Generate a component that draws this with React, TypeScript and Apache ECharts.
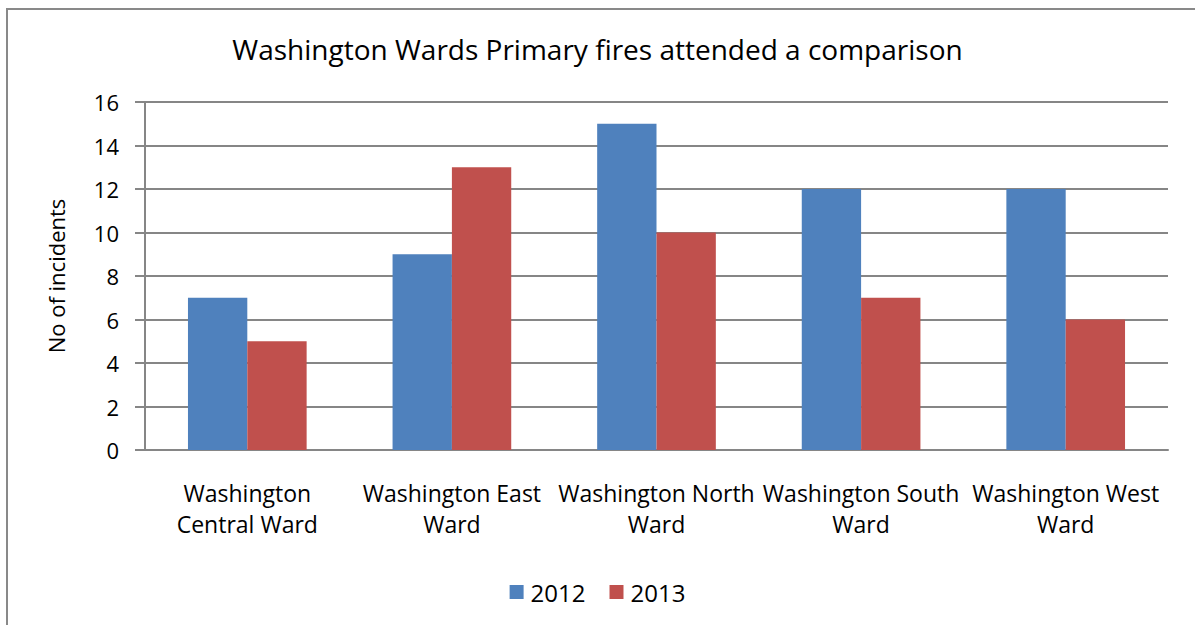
import React, { useEffect, useRef } from "react";
import * as echarts from "echarts";

const categories = [
  "Washington\nCentral Ward",
  "Washington East\nWard",
  "Washington North\nWard",
  "Washington South\nWard",
  "Washington West\nWard",
];
const series2012 = [7, 9, 15, 12, 12];
const series2013 = [5, 13, 10, 7, 6];
const seriesNames = ["2012", "2013"];

const FONT = "'Open Sans', sans-serif";

export default function App() {
  const ref = useRef<HTMLDivElement>(null);
  useEffect(() => {
    document.body.style.margin = "0";
    const chart = echarts.init(ref.current!, undefined, { renderer: "svg" });
    chart.setOption({
      animation: false,
      backgroundColor: "#ffffff",
      textStyle: { fontFamily: FONT },
      title: {
        text: "Washington Wards Primary fires attended a comparison",
        left: "center",
        top: 30,
        textStyle: { fontFamily: FONT, fontSize: 28, fontWeight: "normal", color: "#000" },
      },
      graphic: [
        {
          type: "rect",
          shape: { x: 7, y: 9, width: 1250, height: 700 },
          style: { fill: "none", stroke: "#898989", lineWidth: 2 },
          silent: true,
        },
      ],
      legend: {
        data: seriesNames,
        bottom: 16,
        left: "center",
        icon: "rect",
        itemWidth: 14,
        itemHeight: 14,
        itemGap: 24,
        textStyle: { fontFamily: FONT, fontSize: 24, color: "#000", padding: [0, 0, 0, 2] },
      },
      grid: { left: 145, top: 102, width: 1023, height: 348 },
      xAxis: {
        type: "category",
        data: categories,
        axisLine: { lineStyle: { color: "#868686", width: 2 } },
        axisTick: { show: false },
        axisLabel: {
          interval: 0,
          margin: 27,
          fontFamily: FONT,
          fontSize: 23,
          color: "#000",
          lineHeight: 31,
        },
      },
      yAxis: {
        type: "value",
        min: 0,
        max: 16,
        interval: 2,
        name: "No of incidents",
        nameLocation: "middle",
        nameGap: 78,
        nameTextStyle: { fontFamily: FONT, fontSize: 22, color: "#000" },
        axisLine: { show: true, lineStyle: { color: "#868686", width: 2 } },
        axisTick: { show: true, length: 10, lineStyle: { color: "#868686", width: 2 } },
        axisLabel: { margin: 26, fontFamily: FONT, fontSize: 22, color: "#000" },
        splitLine: { lineStyle: { color: "#868686", width: 2 } },
      },
      series: [
        {
          name: seriesNames[0],
          type: "bar",
          data: series2012,
          barGap: "0%",
          barCategoryGap: "42%",
          itemStyle: { color: "#4F81BD" },
        },
        {
          name: seriesNames[1],
          type: "bar",
          data: series2013,
          barGap: "0%",
          barCategoryGap: "42%",
          itemStyle: { color: "#C0504D" },
        },
      ],
    });
    return () => chart.dispose();
  }, []);
  return <div ref={ref} style={{ width: 1195, height: 625 }} />;
}
